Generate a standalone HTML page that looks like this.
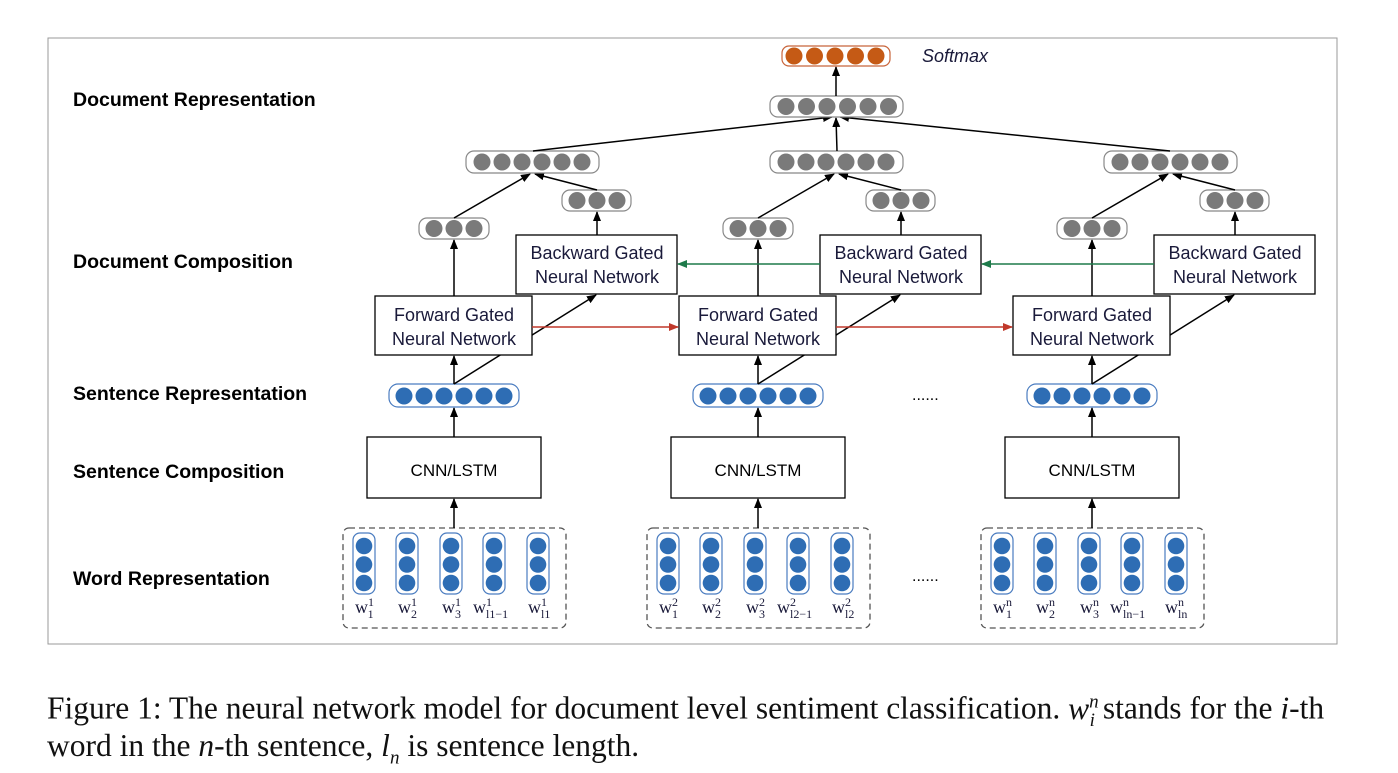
<!DOCTYPE html>
<html><head><meta charset="utf-8"><style>
body{margin:0;background:#fff;width:1398px;height:773px;overflow:hidden}
svg{position:absolute;left:0;top:0}
.cap{position:absolute;left:47px;font-family:"Liberation Serif",serif;font-size:31.5px;color:#111;white-space:nowrap;line-height:1}
</style></head><body>
<svg width="1398" height="773" xmlns="http://www.w3.org/2000/svg">
<defs>
<marker id="ah" markerWidth="10" markerHeight="10" refX="9" refY="5" orient="auto" markerUnits="userSpaceOnUse"><path d="M0,1 L10,5 L0,9 z" fill="#000"/></marker>
<marker id="ar" markerWidth="10" markerHeight="10" refX="9" refY="5" orient="auto" markerUnits="userSpaceOnUse"><path d="M0,1 L10,5 L0,9 z" fill="#c0392b"/></marker>
<marker id="ag" markerWidth="10" markerHeight="10" refX="9" refY="5" orient="auto" markerUnits="userSpaceOnUse"><path d="M0,1 L10,5 L0,9 z" fill="#1e7a4a"/></marker>
<g id="wp">
<rect x="-11" y="533" width="22" height="61" rx="7" fill="#fff" stroke="#4a7cc0" stroke-width="1.2"/>
<circle cx="0" cy="546" r="8.3" fill="#2e6db4"/><circle cx="0" cy="564.5" r="8.3" fill="#2e6db4"/><circle cx="0" cy="583" r="8.3" fill="#2e6db4"/>
</g>
<g id="col" font-family="Liberation Sans, sans-serif" font-size="18" fill="#000">
<rect x="343" y="528" width="223" height="100" rx="6" fill="none" stroke="#555" stroke-width="1.3" stroke-dasharray="6,4"/>
<use href="#wp" x="364"/><use href="#wp" x="407"/><use href="#wp" x="451"/><use href="#wp" x="494"/><use href="#wp" x="538"/>
<rect x="367" y="437" width="174" height="61" fill="#fff" stroke="#000" stroke-width="1.3"/>
<text x="454" y="476" text-anchor="middle" font-size="17">CNN/LSTM</text>
<line x1="454" y1="528" x2="454" y2="499" stroke="#000" stroke-width="1.5" marker-end="url(#ah)"/>
<line x1="454" y1="437" x2="454" y2="408" stroke="#000" stroke-width="1.5" marker-end="url(#ah)"/>
<rect x="389" y="384" width="130" height="23" rx="9" fill="#fff" stroke="#4a7cc0" stroke-width="1.2"/>
<g fill="#2e6db4"><circle cx="404" cy="396" r="8.5"/><circle cx="424" cy="396" r="8.5"/><circle cx="444" cy="396" r="8.5"/><circle cx="464" cy="396" r="8.5"/><circle cx="484" cy="396" r="8.5"/><circle cx="504" cy="396" r="8.5"/></g>
<line x1="454" y1="384" x2="454" y2="356" stroke="#000" stroke-width="1.5" marker-end="url(#ah)"/>
<line x1="454" y1="384" x2="596" y2="295" stroke="#000" stroke-width="1.5" marker-end="url(#ah)"/>
<rect x="375" y="296" width="157" height="59" fill="#fff" stroke="#000" stroke-width="1.3"/>
<text x="454" y="321" text-anchor="middle" fill="#1a1a3a">Forward Gated</text>
<text x="454" y="345" text-anchor="middle" fill="#1a1a3a">Neural Network</text>
<rect x="516" y="235" width="161" height="59" fill="#fff" stroke="#000" stroke-width="1.3"/>
<text x="597" y="259" text-anchor="middle" fill="#1a1a3a">Backward Gated</text>
<text x="597" y="283" text-anchor="middle" fill="#1a1a3a">Neural Network</text>
<line x1="454" y1="296" x2="454" y2="240" stroke="#000" stroke-width="1.5" marker-end="url(#ah)"/>
<line x1="597" y1="235" x2="597" y2="212" stroke="#000" stroke-width="1.5" marker-end="url(#ah)"/>
<rect x="419" y="218" width="70" height="21" rx="8" fill="#fff" stroke="#888" stroke-width="1.2"/>
<g fill="#7a7a7a"><circle cx="434" cy="228.5" r="8.5"/><circle cx="454" cy="228.5" r="8.5"/><circle cx="474" cy="228.5" r="8.5"/></g>
<rect x="562" y="190" width="69" height="21" rx="8" fill="#fff" stroke="#888" stroke-width="1.2"/>
<g fill="#7a7a7a"><circle cx="577" cy="200.5" r="8.5"/><circle cx="597" cy="200.5" r="8.5"/><circle cx="617" cy="200.5" r="8.5"/></g>
<line x1="454" y1="218" x2="530" y2="174" stroke="#000" stroke-width="1.5" marker-end="url(#ah)"/>
<line x1="597" y1="190" x2="535" y2="174" stroke="#000" stroke-width="1.5" marker-end="url(#ah)"/>
<rect x="466" y="151" width="133" height="22" rx="8" fill="#fff" stroke="#888" stroke-width="1.2"/>
<g fill="#7a7a7a"><circle cx="482" cy="162" r="8.5"/><circle cx="502" cy="162" r="8.5"/><circle cx="522" cy="162" r="8.5"/><circle cx="542" cy="162" r="8.5"/><circle cx="562" cy="162" r="8.5"/><circle cx="582" cy="162" r="8.5"/></g>
</g>
</defs>
<rect x="48" y="38" width="1289" height="606" fill="none" stroke="#999" stroke-width="1"/>
<use href="#col" x="0"/><use href="#col" x="304"/><use href="#col" x="638"/>
<line x1="532" y1="327" x2="678" y2="327" stroke="#c0392b" stroke-width="1.6" marker-end="url(#ar)"/>
<line x1="836" y1="327" x2="1012" y2="327" stroke="#c0392b" stroke-width="1.6" marker-end="url(#ar)"/>
<line x1="820" y1="264" x2="678" y2="264" stroke="#1e7a4a" stroke-width="1.6" marker-end="url(#ag)"/>
<line x1="1154" y1="264" x2="982" y2="264" stroke="#1e7a4a" stroke-width="1.6" marker-end="url(#ag)"/>
<line x1="533" y1="151" x2="832" y2="117" stroke="#000" stroke-width="1.5" marker-end="url(#ah)"/>
<line x1="837" y1="151" x2="836" y2="118" stroke="#000" stroke-width="1.5" marker-end="url(#ah)"/>
<line x1="1170" y1="151" x2="840" y2="117" stroke="#000" stroke-width="1.5" marker-end="url(#ah)"/>
<rect x="770" y="96" width="133" height="21" rx="8" fill="#fff" stroke="#888" stroke-width="1.2"/>
<g fill="#7a7a7a"><circle cx="786" cy="106.5" r="8.5"/><circle cx="806.5" cy="106.5" r="8.5"/><circle cx="827" cy="106.5" r="8.5"/><circle cx="847.5" cy="106.5" r="8.5"/><circle cx="868" cy="106.5" r="8.5"/><circle cx="888.5" cy="106.5" r="8.5"/></g>
<line x1="836" y1="96" x2="836" y2="67" stroke="#000" stroke-width="1.5" marker-end="url(#ah)"/>
<rect x="782" y="46" width="108" height="20" rx="7" fill="#fff" stroke="#c8643a" stroke-width="1.2"/>
<g fill="#c55a15"><circle cx="794" cy="56" r="8.5"/><circle cx="814.5" cy="56" r="8.5"/><circle cx="835" cy="56" r="8.5"/><circle cx="855.5" cy="56" r="8.5"/><circle cx="876" cy="56" r="8.5"/></g>
<text x="922" y="62" font-family="Liberation Sans, sans-serif" font-style="italic" font-size="18" fill="#1a1a3a">Softmax</text>
<g font-family="Liberation Sans, sans-serif" font-weight="bold" font-size="19.5" fill="#000">
<text x="73" y="106">Document Representation</text>
<text x="73" y="268">Document Composition</text>
<text x="73" y="400">Sentence Representation</text>
<text x="73" y="478">Sentence Composition</text>
<text x="73" y="585">Word Representation</text>
</g>
<g font-family="Liberation Sans, sans-serif" font-size="16" fill="#000">
<text x="912" y="400">......</text><text x="912" y="581">......</text>
</g>
<g font-family="Liberation Serif, serif" font-size="18" fill="#1a1a3a">
<text x="355" y="613">w<tspan font-size="12" dy="-7">1</tspan><tspan font-size="12" dx="-6" dy="12">1</tspan></text>
<text x="398" y="613">w<tspan font-size="12" dy="-7">1</tspan><tspan font-size="12" dx="-6" dy="12">2</tspan></text>
<text x="442" y="613">w<tspan font-size="12" dy="-7">1</tspan><tspan font-size="12" dx="-6" dy="12">3</tspan></text>
<text x="473" y="613">w<tspan font-size="12" dy="-7">1</tspan><tspan font-size="12" dx="-6" dy="12">l1−1</tspan></text>
<text x="528" y="613">w<tspan font-size="12" dy="-7">1</tspan><tspan font-size="12" dx="-6" dy="12">l1</tspan></text>
<text x="659" y="613">w<tspan font-size="12" dy="-7">2</tspan><tspan font-size="12" dx="-6" dy="12">1</tspan></text>
<text x="702" y="613">w<tspan font-size="12" dy="-7">2</tspan><tspan font-size="12" dx="-6" dy="12">2</tspan></text>
<text x="746" y="613">w<tspan font-size="12" dy="-7">2</tspan><tspan font-size="12" dx="-6" dy="12">3</tspan></text>
<text x="777" y="613">w<tspan font-size="12" dy="-7">2</tspan><tspan font-size="12" dx="-6" dy="12">l2−1</tspan></text>
<text x="832" y="613">w<tspan font-size="12" dy="-7">2</tspan><tspan font-size="12" dx="-6" dy="12">l2</tspan></text>
<text x="993" y="613">w<tspan font-size="12" dy="-7">n</tspan><tspan font-size="12" dx="-6" dy="12">1</tspan></text>
<text x="1036" y="613">w<tspan font-size="12" dy="-7">n</tspan><tspan font-size="12" dx="-6" dy="12">2</tspan></text>
<text x="1080" y="613">w<tspan font-size="12" dy="-7">n</tspan><tspan font-size="12" dx="-6" dy="12">3</tspan></text>
<text x="1110" y="613">w<tspan font-size="12" dy="-7">n</tspan><tspan font-size="12" dx="-6" dy="12">ln−1</tspan></text>
<text x="1165" y="613">w<tspan font-size="12" dy="-7">n</tspan><tspan font-size="12" dx="-6" dy="12">ln</tspan></text>
</g>
</svg>
<div class="cap" style="top:692px">Figure 1: The neural network model for document level sentiment classification. <i>w<sup style="font-size:19px">n</sup><sub style="font-size:19px;margin-left:-9px">i</sub></i> stands for the <i>i</i>-th</div>
<div class="cap" style="top:730px">word in the <i>n</i>-th sentence, <i>l<sub style="font-size:19px">n</sub></i> is sentence length.</div>
</body></html>
